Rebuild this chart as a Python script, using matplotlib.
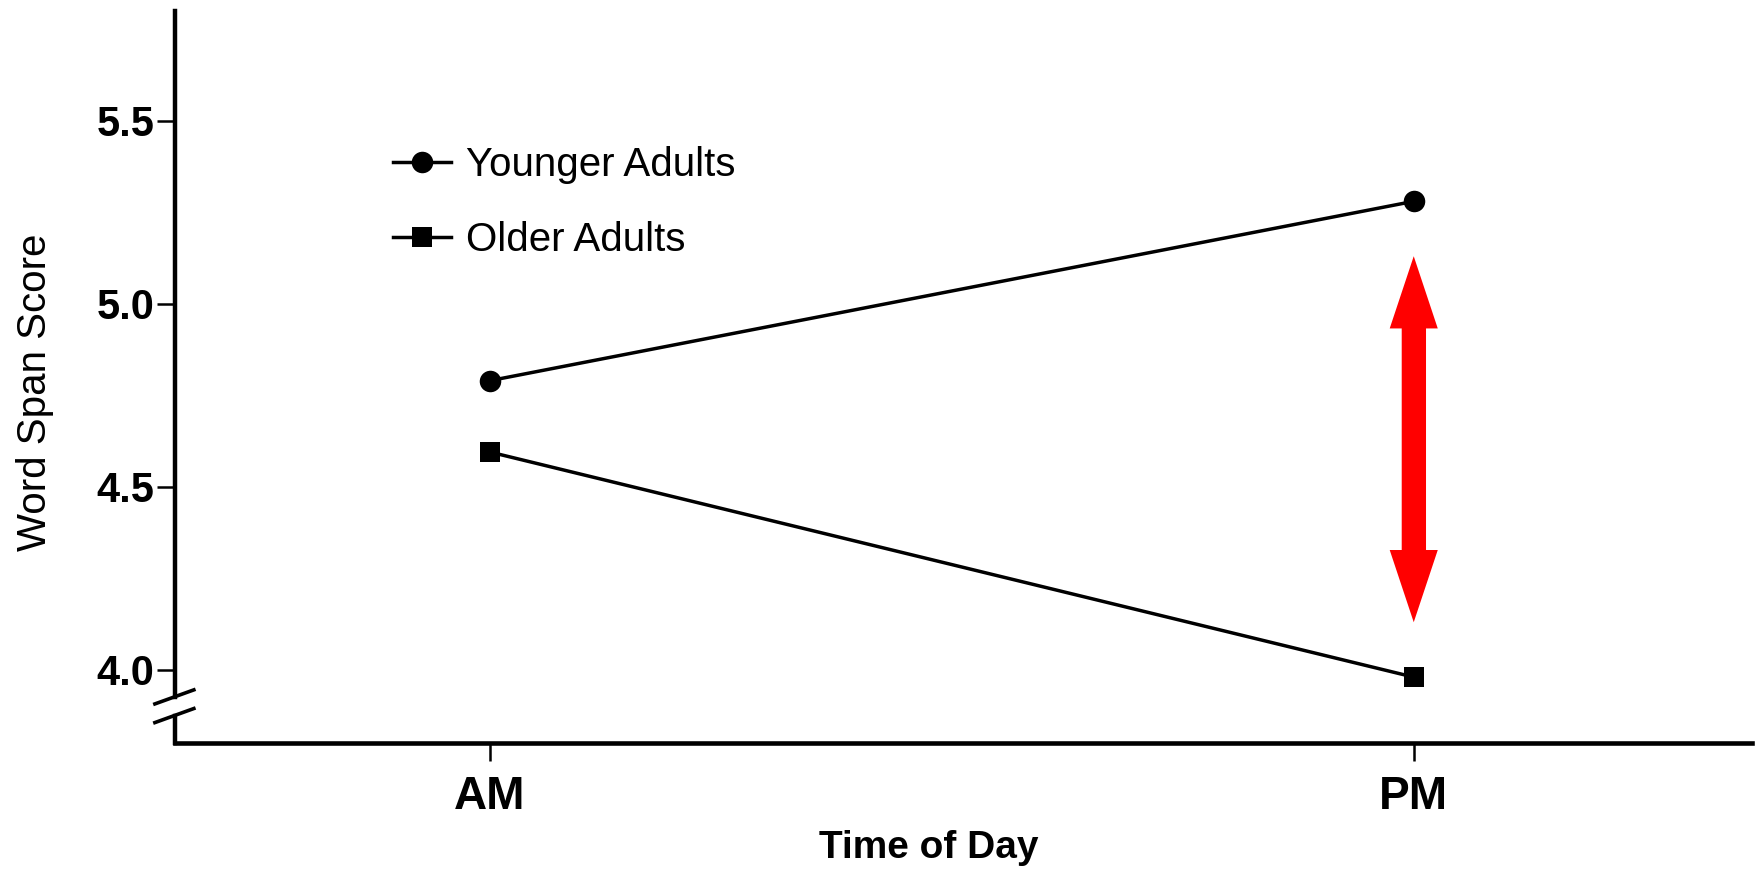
import numpy as np
import matplotlib.pyplot as plt
from matplotlib.patches import FancyArrowPatch, ArrowStyle

plt.rcParams['font.family'] = ['Liberation Sans', 'DejaVu Sans']

# data
times = ["AM", "PM"]
younger = [4.79, 5.28]
older = [4.595, 3.98]
yticks = [4.0, 4.5, 5.0, 5.5]
ytick_labels = ["4.0", "4.5", "5.0", "5.5"]

x = np.arange(len(times))

fig = plt.figure(figsize=(17.58, 8.73), dpi=100)
ax = fig.add_axes([0.0995, 0.1489, 0.8970, 0.8385])

ax.plot(x, younger, color="black", lw=2.5, marker="o", ms=15.5, mew=0,
        label="Younger Adults", clip_on=False, zorder=3)
ax.plot(x, older, color="black", lw=2.5, marker="s", ms=15, mew=0,
        label="Older Adults", clip_on=False, zorder=3)

ax.set_xlim(-0.341, 1.366)
ax.set_ylim(3.80, 5.80)

ax.set_xticks(x)
ax.set_xticklabels(times, fontsize=33, fontweight="bold")
ax.set_yticks(yticks)
ax.set_yticklabels(ytick_labels, fontsize=30, fontweight="bold")
ax.tick_params(axis="both", direction="out", length=13, width=1.8)
ax.tick_params(axis="y", pad=2)
ax.tick_params(axis="x", pad=10)

for s in ["top", "right"]:
    ax.spines[s].set_visible(False)
ax.spines["left"].set_linewidth(3.2)
ax.spines["bottom"].set_linewidth(3.3)

# axis break on the y axis
brk_hi, brk_lo = 3.926, 3.875
ax.spines["left"].set_bounds(brk_hi, 5.80)
ax.plot([0, 0], [3.80, brk_lo], transform=ax.get_yaxis_transform(),
        color="black", lw=3.2, clip_on=False, solid_capstyle="projecting")
ylo, yhi = ax.get_ylim()
for yb in (brk_hi, brk_lo):
    ya = (yb - ylo) / (yhi - ylo)
    ax.plot([-0.0127, 0.0120], [ya - 0.0096, ya + 0.0096], transform=ax.transAxes,
            color="black", lw=2.6, clip_on=False)

ax.set_xlabel("Time of Day", fontsize=28, fontweight="bold")
ax.xaxis.set_label_coords(0.478, -0.157)
ax.xaxis.label.set_va("baseline")
ax.set_ylabel("Word Span Score", fontsize=29)
ax.yaxis.set_label_coords(-0.0815, 0.4795)
ax.yaxis.label.set_va("baseline")

ax.legend(loc="upper left", bbox_to_anchor=(0.138, 0.815), frameon=False,
          fontsize=29, handlelength=1.45, handletextpad=0.38, labelspacing=0.9,
          borderpad=0, borderaxespad=0)

# red double arrow marking the PM gap
pad = 0.15
top = younger[1] - pad
bot = older[1] + pad
mid = (top + bot) / 2
head_len = 52   # points
style = ArrowStyle("Simple", head_length=head_len, head_width=34.6, tail_width=17.3)
for end in (top, bot):
    arr = FancyArrowPatch((x[1], mid), (x[1], end), arrowstyle=style,
                          mutation_scale=1, color="#ff0000", lw=0,
                          shrinkA=0, shrinkB=0, zorder=4)
    ax.add_patch(arr)
# one continuous shaft between the two heads, hides the join at the middle
ax_h_px = ax.get_position().height * fig.get_figheight() * fig.dpi
hl_data = head_len * fig.dpi / 72 * (yhi - ylo) / ax_h_px
ax.plot([x[1], x[1]], [bot + 0.8 * hl_data, top - 0.8 * hl_data], color="#ff0000",
        lw=17.3, solid_capstyle="butt", zorder=4)

fig.savefig("out.png", dpi=100)
